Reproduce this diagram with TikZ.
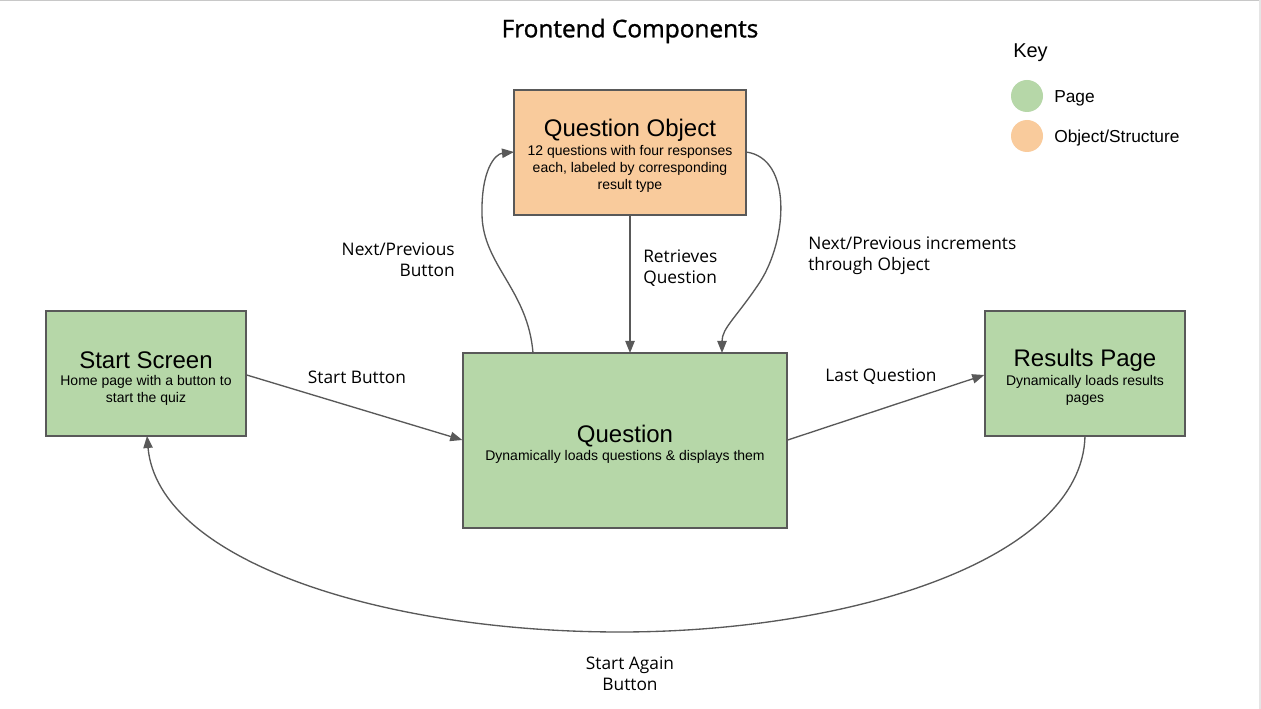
\documentclass[tikz,border=0pt]{standalone}
\usepackage{fontspec}
\setmainfont{Liberation Sans}
\newfontfamily\lblfont{Open Sans}
\newfontfamily\ttlfont[FakeBold=1.2]{Open Sans}
\usetikzlibrary{arrows.meta}
\definecolor{pagegreen}{HTML}{B6D7A8}
\definecolor{objorange}{HTML}{F9CB9C}
\definecolor{edgegray}{HTML}{595959}
\definecolor{framegray}{HTML}{C8C8C8}
\tikzset{
  boxbase/.style={draw=edgegray, line width=1.1pt, inner sep=0pt},
  pagebox/.style={boxbase, fill=pagegreen},
  objbox/.style={boxbase, fill=objorange},
  boxtitle/.style={font=\fontsize{18}{21}\selectfont, inner sep=0pt},
  boxsub/.style={font=\fontsize{10.5}{12.75}\selectfont, align=center, inner sep=0pt},
  lbl/.style={font=\lblfont\fontsize{13}{15.75}\selectfont, inner sep=0pt},
  conn/.style={draw=edgegray, line width=1pt, -{Triangle[length=9pt,width=7pt]}},
  keydot/.style={circle, minimum size=24pt, inner sep=0pt},
  keytext/.style={font=\fontsize{13}{15}\selectfont, anchor=west, inner sep=0pt}
}
\begin{document}
\begin{tikzpicture}[x=0.75pt,y=-0.75pt]
\useasboundingbox (0,0) rectangle (1261,709);
\fill[white] (0,0) rectangle (1261,709);
\draw[framegray, line width=1.2pt] (0,0.6) -- (1261,0.6);
\draw[gray!20, line width=1.2pt] (1260,0) -- (1260,709);

% title
\node[font=\ttlfont\fontsize{18.3}{21}\selectfont, inner sep=0pt] (title) at (630,31) {Frontend Components};

% key
\node[font=\fontsize{15}{18}\selectfont, anchor=west, inner sep=0pt] (keyttl) at (1013,53) {Key};
\node[keydot, fill=pagegreen] (kpage) at (1027,96) {};
\node[keydot, fill=objorange] (kobj) at (1027,136) {};
\node[keytext] (kpaget) at (1054,98) {Page};
\node[keytext] (kobjt) at (1054,138) {Object/Structure};

% boxes
\node[objbox, minimum width=174pt, minimum height=93.75pt] (qobj) at (630,152.5) {};
\node[pagebox, minimum width=150pt, minimum height=93.75pt] (start) at (146,373.5) {};
\node[pagebox, minimum width=243pt, minimum height=131.25pt] (quest) at (625,440.5) {};
\node[pagebox, minimum width=150pt, minimum height=93.75pt] (res) at (1085,373.5) {};

% box texts
\node[boxtitle] (qobjT) at (630,130) {Question Object};
\node[boxsub] (qobjS) at (630,169) {12 questions with four responses\\each, labeled by corresponding\\result type};
\node[boxtitle] (startT) at (146,360) {Start Screen};
\node[boxsub] (startS) at (146,390.5) {Home page with a button to\\start the quiz};
\node[boxtitle] (questT) at (625,436) {Question};
\node[boxsub] (questS) at (625,457) {Dynamically loads questions \& displays them};
\node[boxtitle] (resT) at (1085,360) {Results Page};
\node[boxsub] (resS) at (1085,390.5) {Dynamically loads results\\pages};

% anchor coordinates on box borders
\coordinate (sOut) at (start.east |- 0,375);
\coordinate (qIn) at (quest.west |- 0,440);
\coordinate (qOut) at (quest.east |- 0,440);
\coordinate (rIn) at (res.west |- 0,375);
\coordinate (qoBot) at (qobj.south);
\coordinate (qTop) at (630,353);
\coordinate (qTopL) at (533,353);
\coordinate (qTopR) at (722,353);
\coordinate (qoL) at (514,152);
\coordinate (qoR) at (746,152);
\coordinate (rBot) at (1085,436);
\coordinate (sBot) at (147,436);

% connectors
\draw[conn] (sOut) -- (qIn);
\draw[conn] (qOut) -- (rIn);
\draw[conn] (qoBot) -- (qTop);
\draw[conn] (qTopL) .. controls (528,290) and (483,265) .. (482,215) .. controls (481,170) and (495,154) .. (qoL);
\draw[conn] (qoR) .. controls (792,158) and (788,238) .. (760,282) .. controls (736,318) and (722,328) .. (qTopR);
\draw[conn] (rBot) .. controls (1082,560) and (850,632) .. (620,632) .. controls (380,632) and (158,560) .. (sBot);

% labels
\node[lbl] (lblStart) at (357,377) {Start Button};
\node[lbl] (lblLast) at (881,377) {Last Question};
\node[lbl, anchor=east, align=right] (lblNPB) at (455,260) {Next/Previous\\Button};
\node[lbl, anchor=west, align=left] (lblRet) at (643,268) {Retrieves\\Question};
\node[lbl, anchor=west, align=left] (lblNPI) at (808,256) {Next/Previous increments\\through Object};
\node[lbl, align=center] (lblAgain) at (630,674) {Start Again\\Button};
\end{tikzpicture}
\end{document}
